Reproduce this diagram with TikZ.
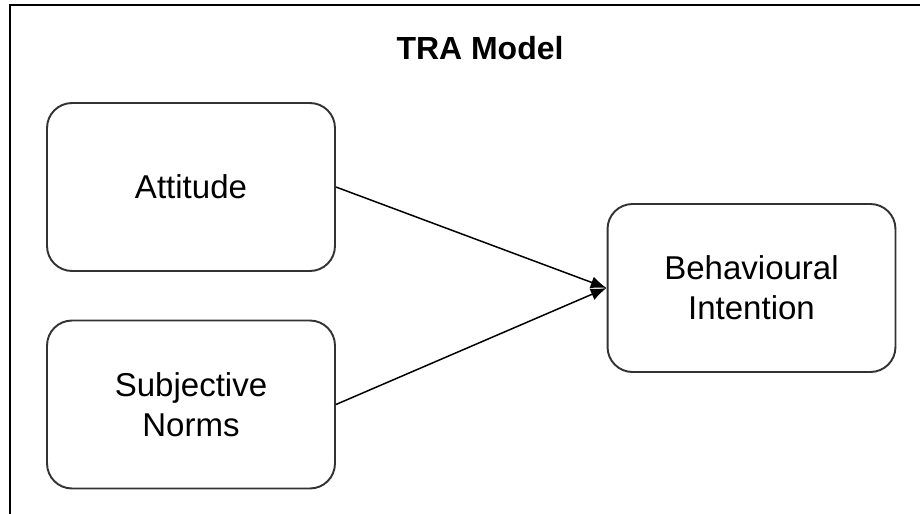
\documentclass[tikz,border=0pt]{standalone}
\usepackage{fontspec}
\setmainfont{Liberation Sans}
\usetikzlibrary{arrows}
\usetikzlibrary{calc,arrows.meta}

\begin{document}
\begin{tikzpicture}[x=0.02cm,y=-0.02cm,every node/.style={draw=black!80,line width=1.1pt,rounded corners=0.5cm,minimum width=5.76cm,minimum height=3.36cm,align=center,font=\fontsize{18.8}{22.8}\selectfont}]
				\useasboundingbox (0,0) rectangle (920,514);
				\draw[line width=1.2pt] (10,514)--(10,5)--(920,5);
				\node[draw=none,minimum width=0pt,minimum height=0pt,font=\fontsize{18.2}{22}\selectfont\bfseries] (title) at (480,48){TRA Model};
				\node (att) at (191,187){Attitude};
				\node (sn) at (191,404.5){Subjective\\Norms};
				\node (bi) at (751.5,288){Behavioural\\Intention};
				\begin{scope}[line width=0.85pt, -{Latex[length=9pt,width=7pt]}]
				\draw (att.east)--(bi.west);
				\draw (sn.east)--(bi.west);
				\end{scope}
			\end{tikzpicture}
\end{document}
